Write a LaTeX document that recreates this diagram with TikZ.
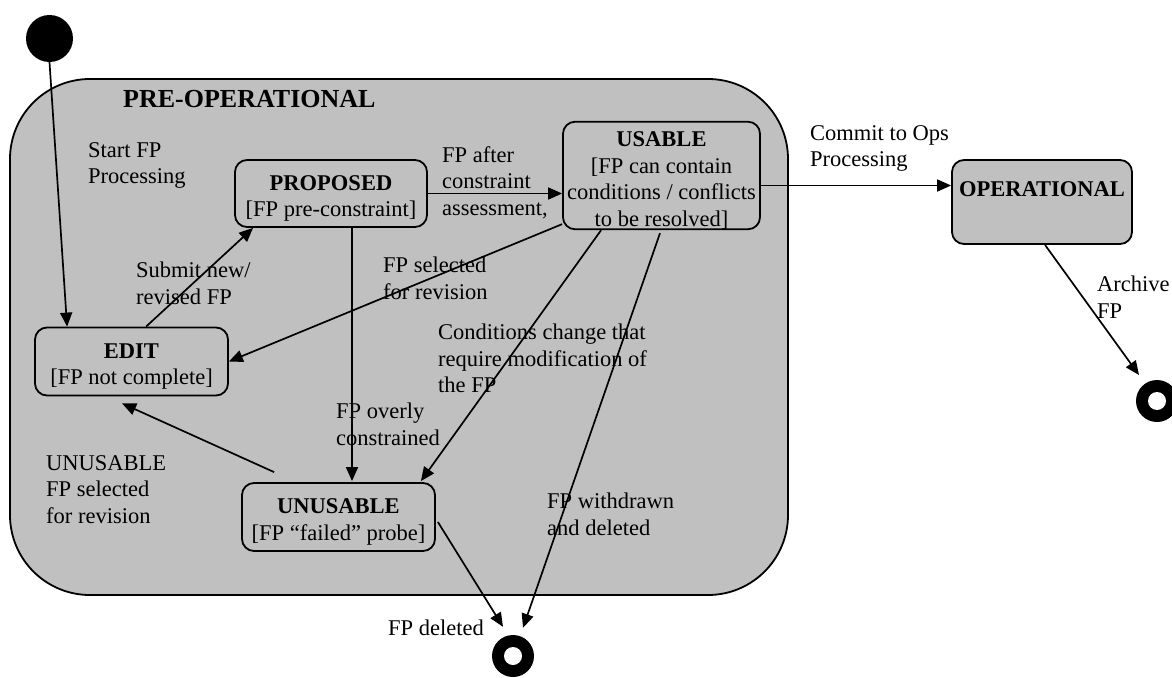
\documentclass[tikz,border=0pt]{standalone}
\usepackage{fontspec}
\setmainfont{Liberation Serif}
\usetikzlibrary{arrows.meta, positioning, calc}
\definecolor{stategray}{HTML}{C0C0C0}
\newcommand{\toprule}{\rule{0pt}{25pt}}

\begin{document}
\begin{tikzpicture}[
			x=1pt, y=-1pt,
			every node/.style={font=\fontsize{22.5}{26.5}\selectfont},
			state/.style={
				draw, 
				rounded corners=12pt, 
				align=center, 
				line width=1.8pt,
				inner sep=0pt
			},
			lbl/.style={anchor=north west, align=left, inner sep=0pt},
			trans/.style={-{Triangle[length=14pt, width=12pt]}, line width=1.7pt},
			endst/.style={circle, fill=black, minimum size=42pt, inner sep=0pt,
				path picture={\fill[white] (path picture bounding box.center) circle (9pt);}}
			]
			\useasboundingbox (0,0) rectangle (1172,677);
			
			% Composite state
			\node[draw, fill=stategray, line width=1.8pt, rounded corners=80pt,
				minimum width=778pt, minimum height=516pt] (preop) at (399,337) {};
			\node[lbl, font=\fontsize{26}{30}\selectfont\bfseries] (preoptitle) at (123,90) {PRE-OPERATIONAL};
			
			% Pseudo states
			\node[circle, fill=black, minimum size=47pt, inner sep=0pt] (start) at (49.5,38.5) {};
			\node[endst] (endA) at (513,656) {};
			\node[endst] (endB) at (1157,401) {};
			
			% States
			\node[state, minimum width=192pt, minimum height=67pt] (prop) at (331,193.5) {\toprule\textbf{PROPOSED}\\{}[FP pre-constraint]};
			\node[state, minimum width=197pt, minimum height=105pt] (usable) at (661.5,175.5) {\toprule\textbf{USABLE}\\{}[FP can contain\\conditions / conflicts\\to be resolved]};
			\node[state, minimum width=193pt, minimum height=68pt] (edit) at (131.5,361.5) {\toprule\textbf{EDIT}\\{}[FP not complete]};
			\node[state, minimum width=193pt, minimum height=68pt] (unus) at (338.5,517) {\toprule\textbf{UNUSABLE}\\{}[FP “failed” probe]};
			\node[state, fill=stategray, minimum width=180pt, minimum height=84pt] (oper) at (1042,202) {\textbf{OPERATIONAL}\\~};
			
			% Transitions
			\draw[trans] (start.south) -- ($(edit.north west)+(33,0)$);
			\draw[trans] ($(edit.north west)+(112,0)$) -- ($(prop.south west)+(19,0)$);
			\draw[trans] (prop.east) -- (prop.east -| usable.west);
			\draw[trans] ($(usable.south west)+(0,-6)$) -- (edit.east);
			\draw[trans] ($(prop.south)+(21,0)$) -- ($(unus.north)+(13.5,-1)$);
			\draw[trans] ($(usable.south west)+(39,0)$) -- ($(unus.north east)+(-15,-1)$);
			\draw[trans] ($(usable.south)+(-1.5,3)$) -- ($(endA.north)+(10,-7)$);
			\draw[trans] ($(unus.north west)+(33,-10)$) -- ($(edit.south west)+(88,7)$);
			\draw[trans] ($(unus.east)+(2,5)$) -- ($(endA.north)+(-10,-8)$);
			\draw[trans] ($(usable.east)+(0,10)$) -- ($(usable.east -| oper.west)+(0,10)$);
			\draw[trans] ($(oper.south)+(3,0)$) -- ($(endB)+(-18,-26)$);
			
			% Labels
			\node[lbl] (lstart) at (88,142) {Start FP\\Processing};
			\node[lbl] (lsubmit) at (136,262) {Submit new/\\revised FP};
			\node[lbl] (lafter) at (442,146) {FP after\\constraint\\assessment,};
			\node[lbl] (lsel) at (383,257) {FP selected\\for revision};
			\node[lbl] (lcond) at (438,324) {Conditions change that\\require modification of\\the FP};
			\node[lbl] (lover) at (336,403) {FP overly\\constrained};
			\node[lbl] (lwith) at (547,493) {FP withdrawn\\and deleted};
			\node[lbl] (lunus) at (46,455) {UNUSABLE\\FP selected\\for revision};
			\node[lbl] (ldel) at (388,620) {FP deleted};
			\node[lbl] (lcommit) at (810,125) {Commit to Ops\\Processing};
			\node[lbl] (larch) at (1097,276) {Archive\\FP};
			
		\end{tikzpicture}
\end{document}
